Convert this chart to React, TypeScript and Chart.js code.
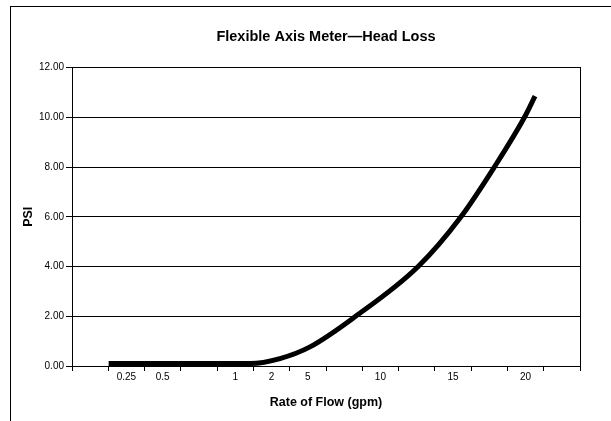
import React, { useEffect, useRef } from "react";
import { Chart, registerables } from "chart.js";

Chart.register(...registerables);

// Category slots of the flow axis (labels sit between tick marks)
const categories = ["", "0.25", "0.5", "", "1", "2", "5", "", "10", "", "15", "", "20", ""];
// Curve points: position along the flow axis (in category slots) and PSI
const flowPosition = [1.01, 4.9, 5.73, 6.56, 7.8, 9.54, 10.72, 11.64, 12.47, 12.76];
const psiValues = [0.1, 0.1, 0.3, 0.77, 1.98, 4.0, 6.0, 8.0, 10.0, 10.85];
const psiMin = 0;
const psiMax = 12;
const psiStep = 2;

const FONT = "'Liberation Sans', Arial, Helvetica, sans-serif";

export default function App() {
  const ref = useRef<HTMLCanvasElement | null>(null);

  useEffect(() => {
    if (!ref.current) return;
    const chart = new Chart(ref.current, {
      type: "line",
      data: {
        datasets: [
          {
            label: "Head Loss",
            data: flowPosition.map((x, i) => ({ x, y: psiValues[i] })),
            borderColor: "#000000",
            backgroundColor: "#000000",
            borderWidth: 5,
            borderCapStyle: "butt",
            borderJoinStyle: "round",
            pointRadius: 0,
            cubicInterpolationMode: "monotone",
            fill: false,
          },
        ],
      },
      options: {
        responsive: false,
        animation: false,
        layout: { padding: { left: 0, right: 31, top: 0, bottom: 0 } },
        plugins: {
          legend: { display: false },
          tooltip: { enabled: false },
          title: {
            display: true,
            text: "Flexible Axis Meter\u2014Head Loss",
            color: "#000000",
            fullSize: false,
            font: { family: FONT, size: 14.5, weight: "bold", lineHeight: 1.2 },
            padding: { top: 28, bottom: 22.1 },
          },
        },
        scales: {
          x: {
            type: "linear",
            position: "bottom",
            min: 0,
            max: categories.length,
            afterBuildTicks: (scale: any) => {
              scale.ticks = categories.map((_, i) => ({ value: i + 0.5 }));
            },
            afterFit: (scale: any) => {
              scale.height = 55;
            },
            ticks: {
              autoSkip: false,
              maxRotation: 0,
              minRotation: 0,
              padding: 0,
              color: "#000000",
              font: { family: FONT, size: 10 },
              callback: (_v: any, index: number) => categories[index],
            },
            grid: {
              offset: true,
              drawOnChartArea: false,
              drawTicks: true,
              tickLength: 5,
              color: "#000000",
              lineWidth: 1,
            },
            border: { display: true, color: "#000000", width: 1 },
            title: {
              display: true,
              text: "Rate of Flow (gpm)",
              color: "#000000",
              font: { family: FONT, size: 12.5, weight: "bold", lineHeight: 1.2 },
              padding: { top: 0, bottom: 10.5 },
            },
          },
          y: {
            type: "linear",
            position: "left",
            min: psiMin,
            max: psiMax,
            afterFit: (scale: any) => {
              scale.width = 72;
            },
            ticks: {
              stepSize: psiStep,
              padding: 2,
              color: "#000000",
              font: { family: FONT, size: 10 },
              callback: (v: any) => Number(v).toFixed(2),
            },
            grid: {
              drawOnChartArea: true,
              drawTicks: true,
              tickLength: 6,
              color: "#000000",
              lineWidth: 1,
            },
            border: { display: true, color: "#000000", width: 1 },
            title: {
              display: true,
              text: "PSI",
              color: "#000000",
              font: { family: FONT, size: 12.5, weight: "bold", lineHeight: 1.2 },
              padding: { top: 21, bottom: 0 },
            },
          },
          y2: {
            type: "linear",
            position: "right",
            min: psiMin,
            max: psiMax,
            afterFit: (scale: any) => {
              scale.width = 0;
            },
            ticks: { display: false },
            grid: { drawOnChartArea: false, drawTicks: false },
            border: { display: true, color: "#000000", width: 1 },
          },
        },
      },
    });
    return () => chart.destroy();
  }, []);

  return (
    <div style={{ position: "fixed", left: 0, top: 0, width: 611, height: 421, overflow: "hidden", background: "#ffffff" }}>
      <div
        style={{
          position: "absolute",
          left: 10,
          top: 6,
          width: 700,
          height: 600,
          border: "1px solid #000000",
          boxSizing: "border-box",
        }}
      />
      <canvas ref={ref} width={611} height={421} style={{ position: "absolute", left: 0, top: 0, width: 611, height: 421 }} />
    </div>
  );
}
